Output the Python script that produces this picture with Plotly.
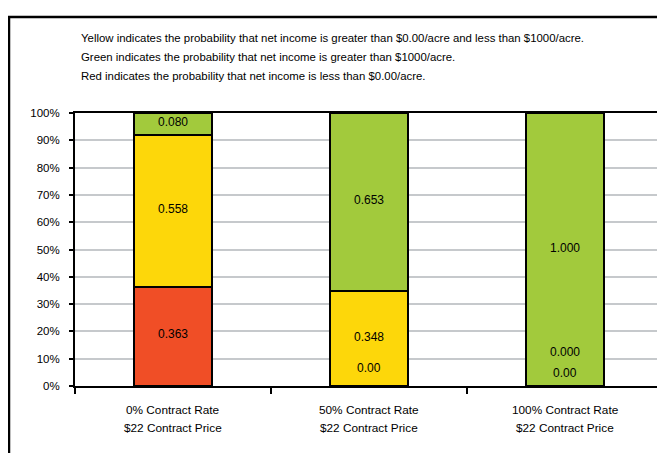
import plotly.graph_objects as go

cat_line1 = ["0% Contract Rate", "50% Contract Rate", "100% Contract Rate"]
cat_line2 = ["$22 Contract Price", "$22 Contract Price", "$22 Contract Price"]

red_vals = [0.363, 0.0, 0.0]
yellow_vals = [0.558, 0.348, 0.0]
green_vals = [0.080, 0.653, 1.000]

red_labels = ["0.363", "0.00", "0.00"]
yellow_labels = ["0.558", "0.348", "0.000"]
green_labels = ["0.080", "0.653", "1.000"]

header_lines = [
    "Yellow indicates the probability that net income is greater than $0.00/acre and less than $1000/acre.",
    "Green indicates the probability that net income is greater than $1000/acre.",
    "Red indicates the probability that net income is less than $0.00/acre.",
]

FONT = "Liberation Sans, Arial, sans-serif"
TXT = "#000000"
colors = {"red": "#F04E26", "yellow": "#FDD70A", "green": "#A2CA3C"}

# the page body has an 8px margin; figure is sized to fit the 665x453 window
W, H = 657, 445
L, R, T, B = 67, 2, 105, 67
PW, PH = W - L - R, H - T - B


def px_to_paper(fx, fy):
    return (fx - L) / PW, (H - B - fy) / PH


fig = go.Figure()
for name, vals in [("red", red_vals), ("yellow", yellow_vals), ("green", green_vals)]:
    fig.add_trace(go.Bar(
        x=cat_line1, y=vals, name=name, width=0.4,
        marker=dict(color=colors[name], line=dict(color="black", width=2)),
        hoverinfo="skip",
    ))

# zero-height segment label nudges (pixels)
zero_shift = {("red", 1): 18, ("red", 2): 13, ("yellow", 2): 34}

annotations = []
for i, cat in enumerate(cat_line1):
    base = 0.0
    for name, vals, labels in [("red", red_vals, red_labels),
                               ("yellow", yellow_vals, yellow_labels),
                               ("green", green_vals, green_labels)]:
        v = vals[i]
        mid = base + v / 2
        shift = zero_shift.get((name, i), 2)
        annotations.append(dict(x=cat, y=mid, xref="x", yref="y", text=labels[i],
                                showarrow=False, yshift=shift, yanchor="middle",
                                font=dict(family=FONT, size=12, color="black")))
        base += v
    annotations.append(dict(x=cat, y=0, xref="x", yref="paper", text=cat_line1[i],
                            showarrow=False, yshift=-24, yanchor="middle",
                            font=dict(family=FONT, size=11.8, color=TXT)))
    annotations.append(dict(x=cat, y=0, xref="x", yref="paper", text=cat_line2[i],
                            showarrow=False, yshift=-42, yanchor="middle",
                            font=dict(family=FONT, size=11.8, color=TXT)))

header_y = [30, 49, 68]
for txt, fy in zip(header_lines, header_y):
    hx, hy = px_to_paper(71, fy)
    annotations.append(dict(x=hx, y=hy, xref="paper", yref="paper",
                            xanchor="left", yanchor="middle", text=txt, showarrow=False,
                            font=dict(family=FONT, size=11.4, color=TXT)))

fx0, fy1 = px_to_paper(1, 9)
fig.add_shape(type="rect", xref="paper", yref="paper",
              x0=fx0, x1=1.2, y0=-0.5, y1=fy1,
              line=dict(color="black", width=2.5), fillcolor="rgba(0,0,0,0)", layer="above")

fig.update_layout(
    width=W, height=H,
    margin=dict(l=L, r=R, t=T, b=B, autoexpand=False),
    barmode="stack",
    showlegend=False,
    paper_bgcolor="white", plot_bgcolor="white",
    annotations=annotations,
    font=dict(family=FONT, size=11.5, color=TXT),
)
fig.update_xaxes(type="category", tickson="boundaries", ticks="outside", ticklen=6,
                 tickcolor="black", tickwidth=1.5, showticklabels=False,
                 showline=True, linecolor="black", linewidth=2, mirror=True,
                 showgrid=False)
fig.update_yaxes(range=[0, 1], dtick=0.1, tickformat=".0%", ticks="outside", ticklen=4,
                 tickcolor="black", tickwidth=1.5, ticklabelstandoff=7,
                 showline=True, linecolor="black", linewidth=2, mirror=True,
                 showgrid=True, gridcolor="#C6C9CC", gridwidth=2,
                 tickfont=dict(family=FONT, size=11.5, color=TXT), zeroline=False)

fig.write_html("out.html")
